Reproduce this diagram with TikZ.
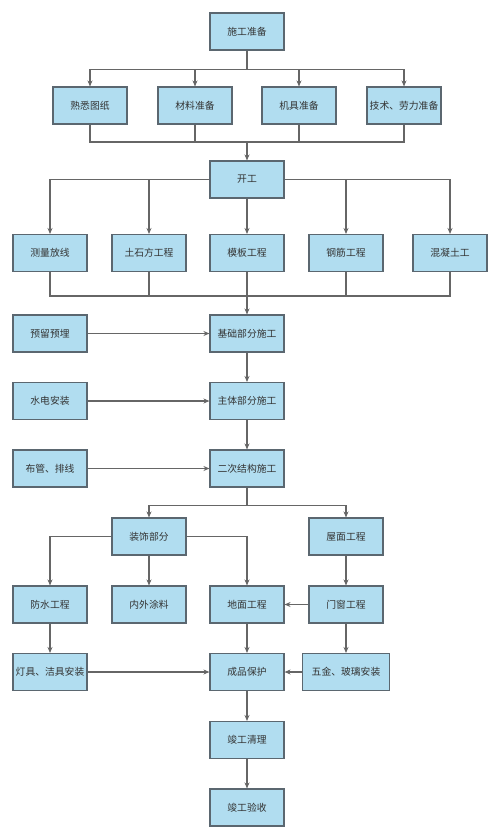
\documentclass[tikz,border=0pt]{standalone}
\usepackage{fontspec}
\setmainfont{Noto Sans CJK SC}
\usepackage{tikz}
\usetikzlibrary{arrows.meta, positioning}

\definecolor{boxfill}{HTML}{B1DDF0}
\definecolor{boxline}{HTML}{5B6770}
\definecolor{linkgray}{HTML}{666666}
\definecolor{txtgray}{HTML}{333333}

\begin{document}
\begin{tikzpicture}[
        x=1pt, y=-1pt,
        task/.style={draw=boxline, fill=boxfill, line width=1.1pt, minimum width=74pt, minimum height=37pt,
            inner sep=1pt, align=center, text=txtgray, font=\fontsize{9.8}{11}\selectfont},
        wide/.style={task, minimum width=87pt},
        link/.style={draw=linkgray, line width=1.1pt},
        arrow/.style={link, -{Stealth[length=6pt, width=5pt]}}
    ]
        \useasboundingbox (0,0) rectangle (500,839);

        % Preparation
        \node[task] (prep) at (247,31.5) {施工准备};
        \node[task] (drawings) at (90,105.5) {熟悉图纸};
        \node[task] (material) at (195,105.5) {材料准备};
        \node[task] (machine) at (299,105.5) {机具准备};
        \node[task] (labour) at (404,105.5) {技术、劳力准备};

        \foreach \n in {drawings, material, machine, labour}
            \draw[arrow] (prep.south) -- ++(0,18.5) -| (\n.north);

        \coordinate (joinA) at (247,142);
        \foreach \n in {drawings, material, machine, labour}
            \draw[link] (\n.south) |- (joinA);

        % Start of works
        \node[task] (start) at (247,179.5) {开工};
        \draw[arrow] (joinA) -- (start.north);

        \node[task] (survey) at (50,253) {测量放线};
        \node[task] (earth) at (149,253) {土石方工程};
        \node[task] (formwork) at (247,253) {模板工程};
        \node[task] (rebar) at (346,253) {钢筋工程};
        \node[task] (concrete) at (450,253) {混凝土工};

        \draw[arrow] (start.west) -| (survey.north);
        \draw[arrow] (start.west) -| (earth.north);
        \draw[arrow] (start) -- (formwork);
        \draw[arrow] (start.east) -| (rebar.north);
        \draw[arrow] (start.east) -| (concrete.north);

        \coordinate (joinB) at (247,296);
        \foreach \n in {survey, earth, formwork, rebar, concrete}
            \draw[link] (\n.south) |- (joinB);

        % Structure
        \node[task] (base) at (247,333.5) {基础部分施工};
        \node[task] (embed) at (50,333.5) {预留预埋};
        \node[task] (main) at (247,401) {主体部分施工};
        \node[task] (utility) at (50,401) {水电安装};
        \node[task] (second) at (247,468.5) {二次结构施工};
        \node[task] (piping) at (50,468.5) {布管、排线};

        \draw[arrow] (joinB) -- (base.north);
        \draw[arrow] (embed) -- (base);
        \draw[arrow] (base) -- (main);
        \draw[arrow] (utility) -- (main);
        \draw[arrow] (main) -- (second);
        \draw[arrow] (piping) -- (second);

        % Finishing
        \node[task] (deco) at (149,536.5) {装饰部分};
        \node[task] (roof) at (346,536.5) {屋面工程};
        \draw[arrow] (second.south) -- ++(0,18) -| (deco.north);
        \draw[arrow] (second.south) -- ++(0,18) -| (roof.north);

        \node[task] (waterproof) at (50,604.5) {防水工程};
        \node[task] (paint) at (149,604.5) {内外涂料};
        \node[task] (floor) at (247,604.5) {地面工程};
        \node[task] (window) at (346,604.5) {门窗工程};

        \draw[arrow] (deco.west) -| (waterproof.north);
        \draw[arrow] (deco) -- (paint);
        \draw[arrow] (deco.east) -| (floor.north);
        \draw[arrow] (roof) -- (window);
        \draw[arrow] (window) -- (floor);

        \node[task] (fixture) at (50,672) {灯具、洁具安装};
        \node[task] (protect) at (247,672) {成品保护};
        \node[wide] (hardware) at (346,672) {五金、玻璃安装};

        \draw[arrow] (waterproof) -- (fixture);
        \draw[arrow] (window) -- (hardware);
        \draw[arrow] (floor) -- (protect);
        \draw[arrow] (fixture) -- (protect);
        \draw[arrow] (hardware) -- (protect);

        % Completion
        \node[task] (clean) at (247,740) {竣工清理};
        \node[task] (accept) at (247,807.5) {竣工验收};
        \draw[arrow] (protect) -- (clean);
        \draw[arrow] (clean) -- (accept);

    \end{tikzpicture}
\end{document}
